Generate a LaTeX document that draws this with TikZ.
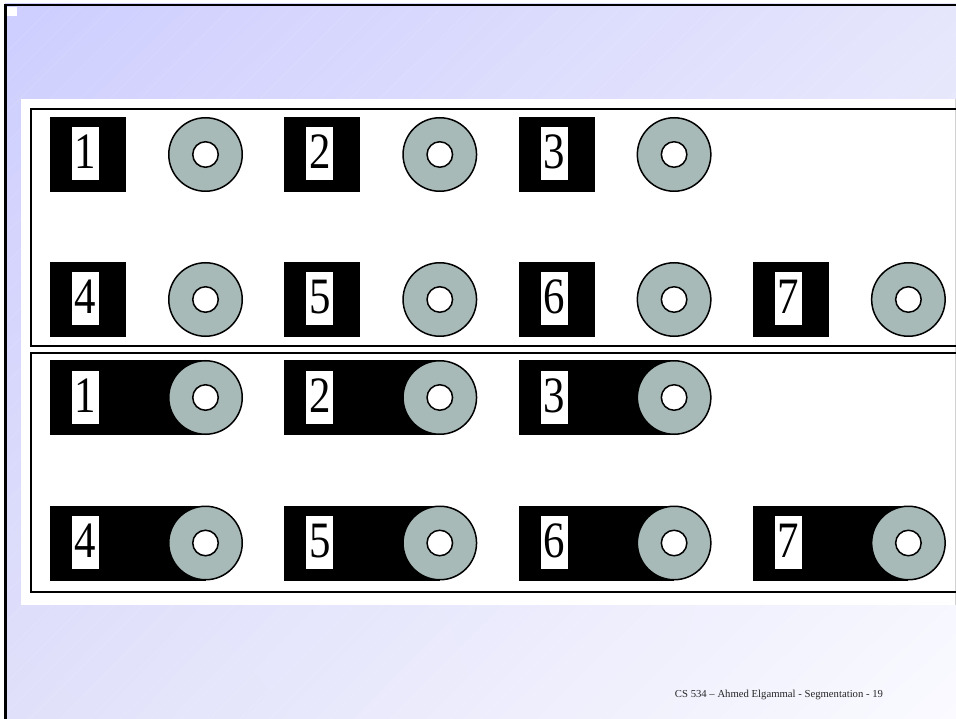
\documentclass[tikz,border=0pt]{standalone}
\usepackage{fontspec}
\setmainfont{Liberation Serif}
\usetikzlibrary{shadings}
\definecolor{diskgray}{RGB}{168,186,183}
\definecolor{bgA}{RGB}{206,206,255}
\definecolor{bgB}{RGB}{229,229,252}
\definecolor{bgC}{RGB}{224,224,250}
\definecolor{bgD}{RGB}{250,250,255}
\newcommand{\digit}[1]{\scalebox{0.84}[1]{#1}}
\begin{document}
\begin{tikzpicture}[x=1pt,y=-1pt,
  blk/.style={rectangle, fill=black, draw=none, inner sep=0pt, minimum height=75pt},
  lbl/.style={rectangle, fill=white, draw=none, inner sep=0pt, minimum width=27pt, minimum height=53pt, text height=36pt, text depth=6pt, font=\fontsize{51}{51}\selectfont},
  disk/.style={circle, draw=black, line width=1.5pt, fill=diskgray, minimum size=73.5pt, inner sep=0pt},
  hole/.style={circle, draw=black, line width=1.5pt, fill=white, minimum size=25.5pt, inner sep=0pt},
  frm/.style={draw=black, line width=2pt}]
\useasboundingbox (0,0) rectangle (956,719);
% slide background
\shade[upper left=bgA, upper right=bgB, lower left=bgC, lower right=bgD] (5,4) rectangle (956,719);
\begin{scope}
  \clip (5,4) rectangle (956,719);
  \foreach \k in {-720,-690,...,960}
    \draw[white, opacity=0.25, line width=0.3pt] (\k,719) -- (\k+719,0);
\end{scope}
\draw[black, line width=2.5pt] (5.5,719) -- (5.5,5) -- (956,5);
\fill[white] (7,7) rectangle (17,16);
% picture area
\fill[white] (21,99) rectangle (956,605);
\draw[black!18, line width=0.8pt] (955.5,99) -- (955.5,605);
\draw[frm] (960,109) -- (31,109) -- (31,346) -- (960,346);
\draw[frm] (960,353) -- (31,353) -- (31,592) -- (960,592);
% top panel: separate squares and disks
\foreach \n/\c/\y in {1/0/154.5, 2/1/154.5, 3/2/154.5, 4/0/299.5, 5/1/299.5, 6/2/299.5, 7/3/299.5}{
  \pgfmathsetmacro{\xl}{50+234.3*\c}
  \node[blk, minimum width=76pt] (tsq\n) at (\xl+38,\y) {};
  \node[lbl] (tlbl\n) at (\xl+35.5,\y-1) {\digit{\n}};
  \node[disk] (tdisk\n) at (\xl+155.5,\y) {};
  \node[hole] (thole\n) at (tdisk\n.center) {};
}
% bottom panel: joined bars and disks
\foreach \n/\c/\y/\ly in {1/0/397.5/397.5, 2/1/397.5/397.5, 3/2/397.5/397.5, 4/0/543/542, 5/1/543/542, 6/2/543/542, 7/3/543/542}{
  \pgfmathsetmacro{\xl}{50+234.3*\c}
  \node[blk, minimum width=155.5pt] (bsq\n) at (\xl+77.75,\y) {};
  \node[lbl] (blbl\n) at (\xl+35.5,\ly) {\digit{\n}};
  \node[disk] (bdisk\n) at (\xl+155.5,\y) {};
  \node[hole] (bhole\n) at (bdisk\n.center) {};
}
% footer
\node[font=\fontsize{10.7}{12}\selectfont, text=black!85, inner sep=0pt] (footer) at (779,695) {CS 534 – Ahmed Elgammal - Segmentation - 19};
\end{tikzpicture}
\end{document}
